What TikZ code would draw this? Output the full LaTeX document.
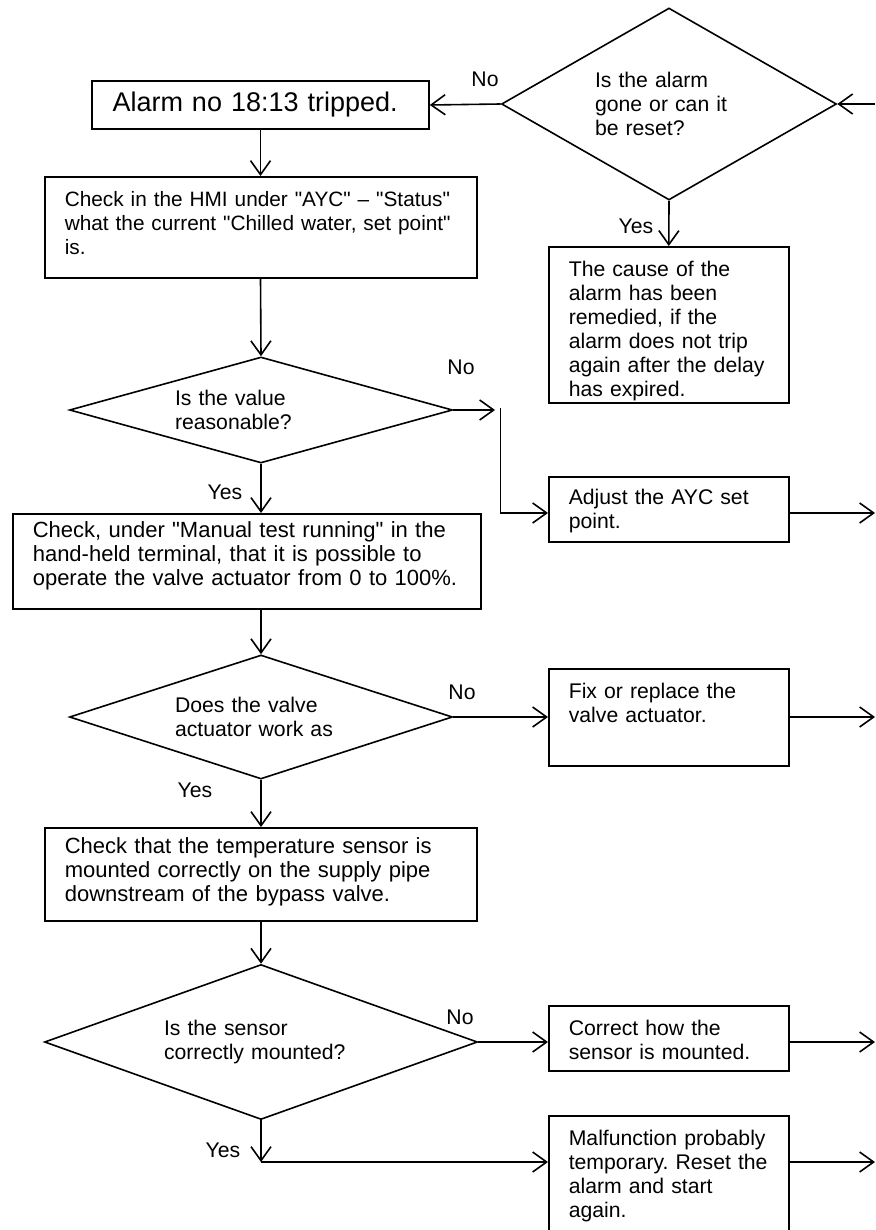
\documentclass[tikz,border=0pt]{standalone}
\usepackage{fontspec}
\setmainfont{Liberation Sans}
\usetikzlibrary{arrows.meta,positioning,shapes.geometric}
\newcommand{\bodyfont}{\fontsize{10.6}{12}\selectfont}
\newcommand{\q}{\textquotedbl}
\frenchspacing
\hyphenpenalty=10000
\tikzset{
  stepbox/.style={rectangle, draw, line width=0.8pt, anchor=north west, align=left,
                  inner xsep=10pt, inner ysep=4pt, text height=11pt, font=\bodyfont},
  sidebox/.style={stepbox, text width=100pt},
  decision/.style={diamond, draw, line width=0.8pt, inner sep=0pt, align=left, font=\bodyfont},
  lbl/.style={font=\bodyfont, inner sep=0pt},
  arr/.style={-{Straight Barb[length=7pt, width=10pt]}, line width=0.8pt},
}
\begin{document}
\begin{tikzpicture}[x=0.5pt, y=-0.5pt]
  \useasboundingbox (0,0) rectangle (875,1230);
  \clip (0,0) rectangle (875,1230);
  % left column
  \node[rectangle, draw, line width=0.8pt, minimum width=168.5pt, minimum height=24pt,
        text width=148pt, align=left, font=\fontsize{13.5}{16}\selectfont] (alarm) at (260.5,105)
    {Alarm no 18:13 tripped.};
  \node[stepbox, text width=196pt, text depth=31.5pt, font=\fontsize{10.4}{12}\selectfont] (check) at (44,176)
    {Check in the HMI under \q AYC\q{} -- \q Status\q\\what the current \q Chilled water, set point\q\\is.};
  \node[decision, minimum width=191.5pt, minimum height=53pt, aspect=3.6, text width=86pt] (value) at (261,410)
    {Is the value\\reasonable?};
  \node[stepbox, text width=214pt, text height=8pt, text depth=31.5pt, font=\fontsize{11}{12}\selectfont] (manual) at (12,513)
    {Check, under \q Manual test running\q{} in the\\hand-held terminal, that it is possible to\\operate the valve actuator from 0 to 100\%.};
  \node[decision, minimum width=191.5pt, minimum height=62pt, aspect=3.1, text width=86pt] (valve) at (261,717)
    {Does the valve\\actuator work as};
  \node[stepbox, text width=196pt, text height=9pt, text depth=29.5pt, font=\fontsize{11}{12}\selectfont] (mount) at (44,827)
    {Check that the temperature sensor is\\mounted correctly on the supply pipe\\downstream of the bypass valve.};
  \node[decision, minimum width=216.5pt, minimum height=77.5pt, aspect=2.8, text width=97pt] (sensor) at (261,1042)
    {Is the sensor\\correctly mounted?};
  % right column
  \node[decision, minimum width=167.5pt, minimum height=96pt, aspect=1.75, text width=74pt] (reset) at (669,104)
    {Is the alarm\\gone or can it\\be reset?};
  \node[sidebox, text depth=59pt] (cause) at (548,246)
    {The cause of the\\alarm has been\\remedied, if the\\alarm does not trip\\again after the delay\\has expired.};
  \node[sidebox, text height=10pt, text depth=14.5pt] (adjust) at (548,476)
    {Adjust the AYC set\\point.};
  \node[sidebox, text depth=29.5pt] (fix) at (548,668)
    {Fix or replace the\\valve actuator.};
  \node[sidebox, text depth=13.5pt] (correct) at (548,1005)
    {Correct how the\\sensor is mounted.};
  \node[sidebox, text depth=51pt] (malf) at (548,1115)
    {Malfunction probably\\temporary. Reset the\\alarm and start\\again.};
  % labels
  \node[lbl] (noreset) at (485,79) {No};
  \node[lbl] (yesreset) at (636,226) {Yes};
  \node[lbl] (novalue) at (461,367) {No};
  \node[lbl] (yesvalue) at (225,492) {Yes};
  \node[lbl] (novalve) at (462,692) {No};
  \node[lbl] (yesvalve) at (195,790) {Yes};
  \node[lbl] (nosensor) at (460,1017) {No};
  \node[lbl] (yessensor) at (223,1150) {Yes};
  % loose ends
  \coordinate (inreset) at (875,104);
  \coordinate (notip) at (495,410);
  \coordinate (nodown) at (500,408);
  \coordinate (nobend) at (500,513);
  \coordinate (yesbend) at (261,1162);
  % connectors
  \draw[arr] (inreset) -- (reset.east);
  \draw[arr] (reset.west) -- (alarm.east);
  \draw[arr] (reset.south) -- (cause.north);
  \draw[arr] (alarm.south) -- (alarm.south |- check.north);
  \draw[arr] (alarm.south |- check.south) -- (value.north);
  \draw[arr] (value.east) -- (notip);
  \draw (nodown) -- (nobend);
  \draw[arr] (nobend) -- (nobend -| adjust.west);
  \draw[arr] (nobend -| adjust.east) -- (nobend -| inreset);
  \draw[arr] (value.south) -- (value.south |- manual.north);
  \draw[arr] (value.south |- manual.south) -- (valve.north);
  \draw[arr] (valve.east) -- (valve.east -| fix.west);
  \draw[arr] (valve.east -| fix.east) -- (valve.east -| inreset);
  \draw[arr] (valve.south) -- (valve.south |- mount.north);
  \draw[arr] (valve.south |- mount.south) -- (sensor.north);
  \draw[arr] (sensor.east) -- (sensor.east -| correct.west);
  \draw[arr] (sensor.east -| correct.east) -- (sensor.east -| inreset);
  \draw[arr] (sensor.south) -- (yesbend);
  \draw[arr] (yesbend) -- (yesbend -| malf.west);
  \draw[arr] (yesbend -| malf.east) -- (yesbend -| inreset);
\end{tikzpicture}
\end{document}
